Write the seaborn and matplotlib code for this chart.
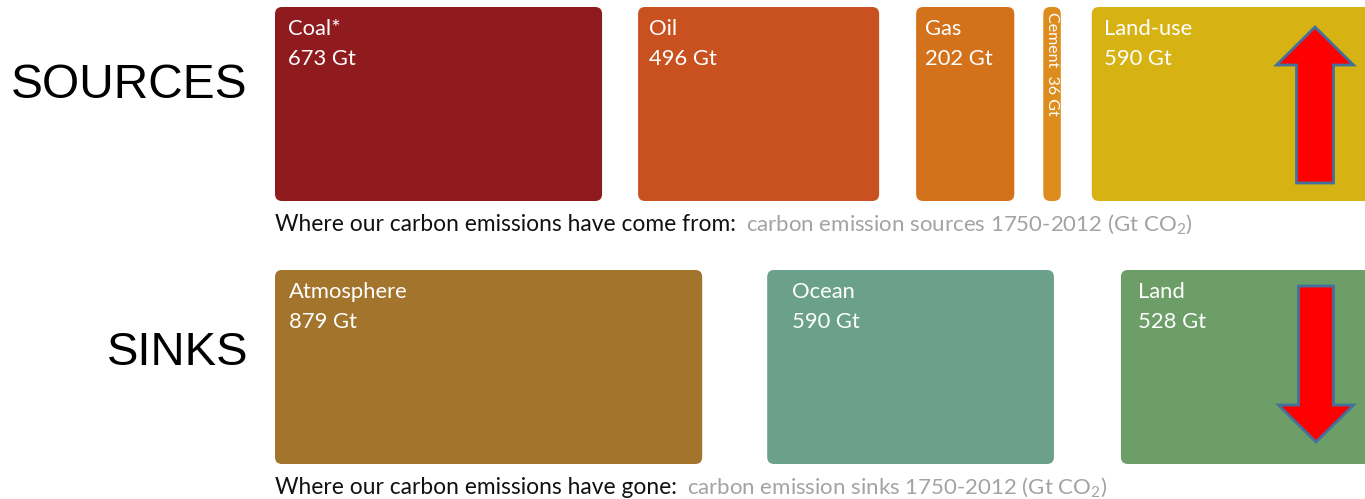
import matplotlib
matplotlib.use("Agg")
import matplotlib.pyplot as plt
from matplotlib.patches import FancyBboxPatch, FancyArrow
import seaborn as sns

# Cumulative CO2 sources and sinks, 1750-2012 (Gt CO2)
source_names = ["Coal*", "Oil", "Gas", "Cement", "Land-use"]
source_values = [673, 496, 202, 36, 590]
source_colors = ["#8F1B1F", "#C9511F", "#D4711B", "#DC8D1E", "#D6B213"]

sink_names = ["Atmosphere", "Ocean", "Land"]
sink_values = [879, 590, 528]
sink_colors = ["#A3742B", "#6BA18A", "#6E9E68"]

sns.set_theme(style="white")
plt.rcParams["font.family"] = ["Lato", "DejaVu Sans"]
plt.rcParams["mathtext.fontset"] = "custom"
plt.rcParams["mathtext.rm"] = "Lato"

W, H = 1365, 499
fig = plt.figure(figsize=(W / 100, H / 100), dpi=100)
ax = fig.add_axes([0, 0, 1, 1])
ax.set_xlim(0, W)
ax.set_ylim(H, 0)
ax.set_axis_off()

PX_PER_GT = 0.486   # block width per Gt
X0 = 275            # left edge of the first block


def draw_row(names, values, colors, gaps, top, height, text_pad, vertical=()):
    left = X0
    for i, (name, val, col) in enumerate(zip(names, values, colors)):
        w = val * PX_PER_GT
        rad = min(7, w / 2 - 0.5)
        ax.add_patch(FancyBboxPatch((left + rad, top + rad), w - 2 * rad, height - 2 * rad,
                                    boxstyle=f"round,pad={rad}", fc=col, ec="none"))
        if name in vertical:
            ax.text(left + w / 2, top + 5, f"{name}  {val} Gt", rotation=270,
                    ha="center", va="top", color="white", fontsize=11.5)
        else:
            pad = text_pad[i]
            ax.text(left + pad, top + 28, name, color="white", fontsize=15.8)
            ax.text(left + pad, top + 58, f"{val} Gt", color="white", fontsize=15.8)
        if i < len(gaps):
            left += w + gaps[i]


draw_row(source_names, source_values, source_colors, [36, 37, 29, 31],
         top=7, height=194, text_pad=[13, 11, 9, 0, 12], vertical=("Cement",))
draw_row(sink_names, sink_values, sink_colors, [65, 67],
         top=270, height=194, text_pad=[14, 25, 17])

# Row captions
def caption(y, bold, rest):
    t = ax.text(X0, y, bold, color="#111111", fontsize=16.4)
    fig.canvas.draw()
    bb = t.get_window_extent()
    ax.text(bb.x1 + 10, y, rest, color="#A3A3A3", fontsize=16.0)

caption(231, "Where our carbon emissions have come from:",
        "carbon emission sources 1750-2012 (Gt CO$_2$)")
caption(494, "Where our carbon emissions have gone:",
        "carbon emission sinks 1750-2012 (Gt CO$_2$)")

# Row headings
ax.text(247, 85, "SOURCES", ha="right", va="center", fontsize=34.5,
        family=["Liberation Sans", "DejaVu Sans"], color="black")
ax.text(248, 353, "SINKS", ha="right", va="center", fontsize=34,
        family=["Liberation Sans", "DejaVu Sans"], color="black")

# Direction arrows
ax.add_patch(FancyArrow(1315, 183, 0, -156, width=37, head_width=77, head_length=38,
                        length_includes_head=True, fc="#FF0000", ec="#41719C", lw=2))
ax.add_patch(FancyArrow(1316, 286, 0, 156, width=35, head_width=75, head_length=37,
                        length_includes_head=True, fc="#FF0000", ec="#41719C", lw=2))

fig.savefig("out.png", dpi=100, facecolor="white")
